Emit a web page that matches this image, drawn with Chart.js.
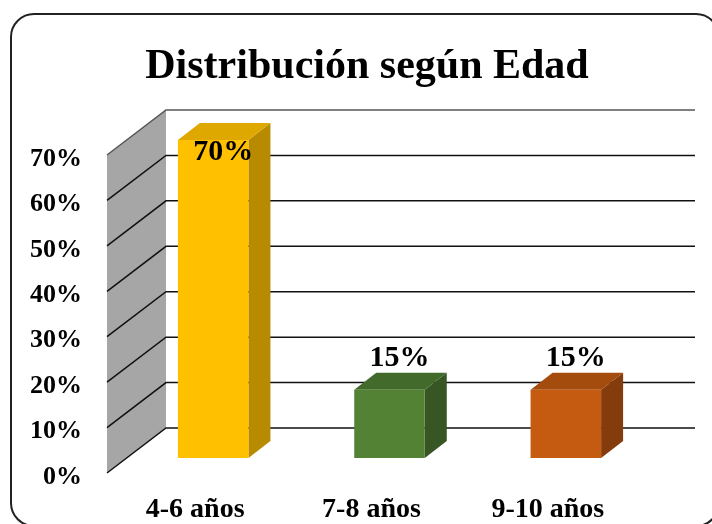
<!DOCTYPE html>
<html>
<head>
<meta charset="utf-8">
<script src="https://cdn.jsdelivr.net/npm/chart.js@4/dist/chart.umd.min.js"></script>
<style>
  body { margin: 0; background: #fff; }
  #wrap { width: 712px; height: 524px; }
</style>
</head>
<body>
<div id="wrap"><canvas id="edadChart" width="712" height="524"></canvas></div>
<script>
const titulo = "Distribución según Edad";
const categorias = ["4-6 años", "7-8 años", "9-10 años"];
const valores = [70, 15, 15];
const ticksY = [0, 10, 20, 30, 40, 50, 60, 70];

// colores de cada barra: frente, lado, tapa
const colorFrente = ["#FFC000", "#548235", "#C55A11"];
const colorLado = ["#B88A00", "#375623", "#843C0C"];
const colorTapa = ["#DFA800", "#426B2B", "#A44B0E"];

const fuente = "'Liberation Serif', 'Times New Roman', serif";

// profundidad de la pared (fondo) y de las barras
const paredDx = 59, paredDy = -45;
const barraShiftX = 18, barraShiftY = -15;
const barraDx = 22, barraDy = -17;

function poly(ctx, pts, color) {
  ctx.beginPath();
  ctx.moveTo(pts[0][0], pts[0][1]);
  for (let i = 1; i < pts.length; i++) ctx.lineTo(pts[i][0], pts[i][1]);
  ctx.closePath();
  ctx.fillStyle = color;
  ctx.fill();
}

const fondo3d = {
  id: "fondo3d",
  beforeDraw(chart) {
    const ctx = chart.ctx;
    ctx.save();
    ctx.fillStyle = "#fff";
    ctx.fillRect(0, 0, chart.width, chart.height);
    ctx.beginPath();
    ctx.roundRect(11, 14, 708, 512, 23);
    ctx.lineWidth = 2;
    ctx.strokeStyle = "#222";
    ctx.stroke();
    ctx.font = "bold 42px " + fuente;
    ctx.fillStyle = "#000";
    ctx.textAlign = "center";
    ctx.textBaseline = "alphabetic";
    ctx.fillText(titulo, 367, 78);
    ctx.restore();
  },
  beforeDatasetsDraw(chart) {
    const ctx = chart.ctx;
    const area = chart.chartArea;
    const y = chart.scales.y;
    const izq = area.left;
    const y0 = y.getPixelForValue(ticksY[0]);
    const yTop = y.getPixelForValue(ticksY[ticksY.length - 1]);
    ctx.save();
    // pared lateral gris
    poly(ctx, [[izq, yTop], [izq + paredDx, yTop + paredDy], [izq + paredDx, y0 + paredDy], [izq, y0]], "#A6A6A6");
    ticksY.forEach((t, i) => {
      const py = y.getPixelForValue(t);
      ctx.beginPath();
      ctx.moveTo(izq, py);
      ctx.lineTo(izq + paredDx, py + paredDy);
      ctx.lineTo(area.right + paredDx, py + paredDy);
      ctx.lineWidth = 1.5;
      ctx.strokeStyle = i === ticksY.length - 1 ? "#555" : "#111";
      ctx.stroke();
    });
    ctx.restore();
  },
  afterDatasetsDraw(chart) {
    const ctx = chart.ctx;
    const area = chart.chartArea;
    const meta = chart.getDatasetMeta(0);
    ctx.save();
    meta.data.forEach((bar, i) => {
      const w = bar.width;
      const l = bar.x - w / 2 + barraShiftX;
      const r = bar.x + w / 2 + barraShiftX;
      const t = bar.y + barraShiftY;
      const b = bar.base + barraShiftY;
      poly(ctx, [[r, t], [r + barraDx, t + barraDy], [r + barraDx, b + barraDy], [r, b]], colorLado[i]);
      poly(ctx, [[l, t], [l + barraDx, t + barraDy], [r + barraDx, t + barraDy], [r, t]], colorTapa[i]);
      poly(ctx, [[l, t], [r, t], [r, b], [l, b]], colorFrente[i]);

      // etiqueta de dato
      ctx.font = "bold 30px " + fuente;
      ctx.fillStyle = "#000";
      ctx.textAlign = "center";
      ctx.textBaseline = "alphabetic";
      const ly = Math.max(t - 24, area.top + 5);
      ctx.fillText(valores[i] + "%", bar.x + barraShiftX + 10, ly);
    });
    ctx.restore();
  }
};

new Chart(document.getElementById("edadChart"), {
  type: "bar",
  data: {
    labels: categorias,
    datasets: [
      {
        label: "Edad",
        data: valores,
        backgroundColor: "rgba(0,0,0,0)",
        borderWidth: 0,
        barPercentage: 0.4,
        categoryPercentage: 1
      }
    ]
  },
  options: {
    responsive: false,
    animation: false,
    devicePixelRatio: 1,
    layout: {
      padding: { left: 0, right: 76, top: 155, bottom: 0 }
    },
    plugins: {
      legend: { display: false },
      title: { display: false },
      tooltip: { enabled: false }
    },
    scales: {
      x: {
        grid: { display: false },
        border: { display: false },
        afterFit: (scale) => { scale.height = 51; },
        ticks: {
          color: "#000",
          padding: 12,
          font: { family: fuente, size: 28, weight: "bold" }
        }
      },
      y: {
        min: 0,
        max: 70,
        grid: { display: false, drawTicks: false },
        border: { display: false },
        afterFit: (scale) => { scale.width = 107; },
        ticks: {
          stepSize: 10,
          color: "#000",
          padding: 25,
          labelOffset: 4,
          font: { family: fuente, size: 26, weight: "bold" },
          callback: (v) => v + "%"
        }
      }
    }
  },
  plugins: [fondo3d]
});
</script>
</body>
</html>
